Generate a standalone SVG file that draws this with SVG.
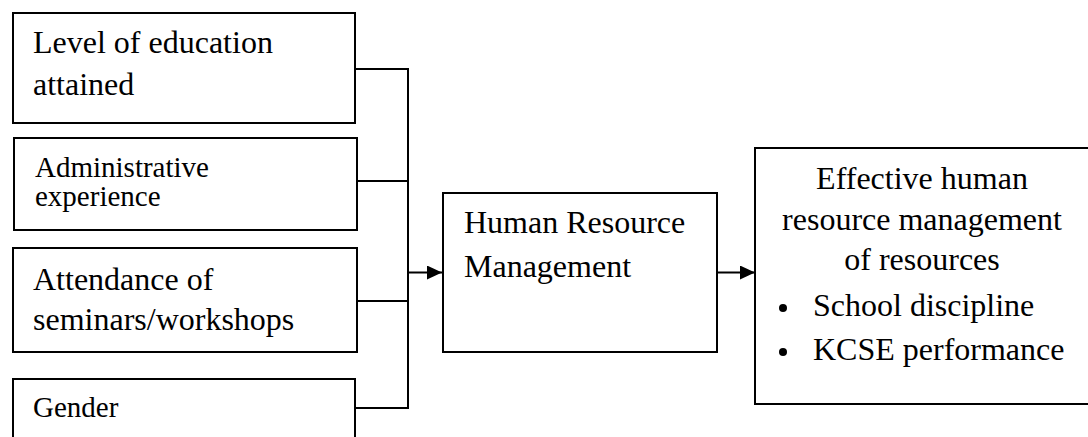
<svg xmlns="http://www.w3.org/2000/svg" width="1088" height="437" viewBox="0 0 1088 437">
<style>
.box{fill:#fff;stroke:#000;stroke-width:2}
text{font-family:'Liberation Serif','Times New Roman',serif;fill:#000}
.l{font-size:32px}
.s{font-size:29px}
.c{stroke:#000;stroke-width:2;fill:none}
</style>
<defs>
<marker id="ah" viewBox="0 0 15 14" refX="15" refY="7" markerWidth="15" markerHeight="14" markerUnits="userSpaceOnUse" orient="auto">
<path d="M0,0 L15,7 L0,14 Z" fill="#000"/>
</marker>
</defs>
<rect width="1088" height="437" fill="#fff"/>
<g id="connectors">
<path class="c" d="M355,69 H408 M355,181 H408 M355,301 H408 M355,408 H408 M408,68 V409"/>
<path class="c" d="M408,272.5 H442" marker-end="url(#ah)"/>
<path class="c" d="M717,272.5 H755" marker-end="url(#ah)"/>
</g>
<g id="n1">
<rect class="box" x="13" y="13" width="342" height="110"/>
<text class="l" x="33" y="53">Level of education</text>
<text class="l" x="33" y="95">attained</text>
</g>
<g id="n2">
<rect class="box" x="14" y="138" width="343" height="92"/>
<text class="s" x="35" y="177">Administrative</text>
<text class="s" x="35" y="206">experience</text>
</g>
<g id="n3">
<rect class="box" x="13" y="248" width="344" height="104"/>
<text class="l" x="33" y="290">Attendance of</text>
<text class="l" x="33" y="330">seminars/workshops</text>
</g>
<g id="n4">
<rect class="box" x="13" y="379" width="342" height="70"/>
<text class="s" x="33" y="417">Gender</text>
</g>
<g id="hrm">
<rect class="box" x="443" y="193" width="274" height="159"/>
<text class="l" x="464" y="233">Human Resource</text>
<text class="l" x="464" y="277">Management</text>
</g>
<g id="outcome">
<rect class="box" x="755" y="148" width="335" height="256"/>
<text class="l" x="922" y="189" text-anchor="middle">Effective human</text>
<text class="l" x="922" y="230" text-anchor="middle">resource management</text>
<text class="l" x="922" y="270" text-anchor="middle">of resources</text>
<circle cx="783" cy="308" r="4"/>
<text class="l" x="813" y="316">School discipline</text>
<circle cx="783" cy="352" r="4"/>
<text class="l" x="813" y="360">KCSE performance</text>
</g>
</svg>
